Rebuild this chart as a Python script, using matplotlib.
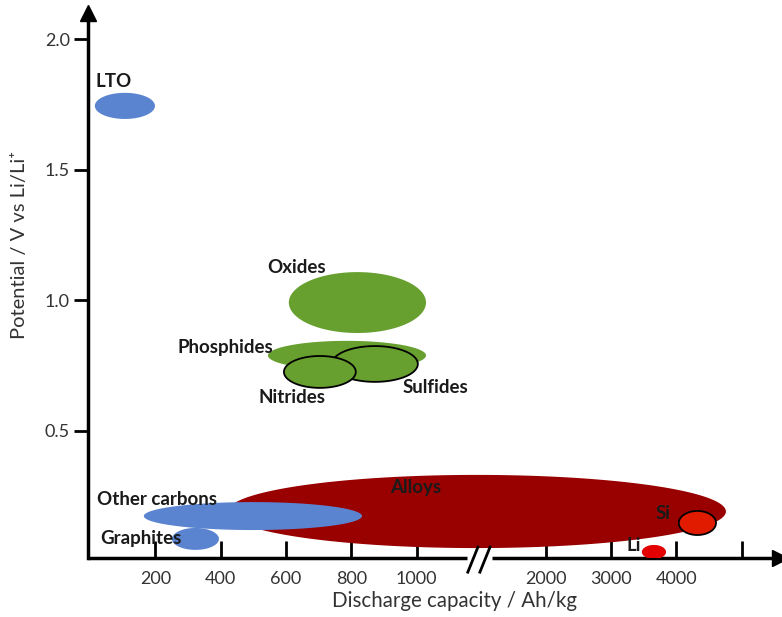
import numpy as np
import matplotlib
matplotlib.use("Agg")
import matplotlib.pyplot as plt

plt.rcParams['font.family'] = ['Lato', 'DejaVu Sans']

# material regions: capacity range (Ah/kg) and potential range (V vs Li/Li+)
materials = ['Alloys', 'Other carbons', 'Graphites', 'LTO', 'Oxides',
             'Phosphides', 'Sulfides', 'Nitrides', 'Si', 'Li']
cap_lo = [422, 165, 251, 15, 609, 545, 741, 594, 4035, 3470]
cap_hi = [4757, 833, 395, 199, 1029, 1029, 1004, 814, 4605, 3840]
pot_lo = [0.052, 0.121, 0.045, 1.694, 0.875, 0.733, 0.688, 0.665, 0.102, 0.010]
pot_hi = [0.332, 0.228, 0.129, 1.794, 1.108, 0.845, 0.825, 0.787, 0.194, 0.064]

# label anchor points (left edge, vertical centre)
label_x = [918, 21, 31, 18, 542, 269, 958, 517, 3685, 3240]
label_y = [0.282, 0.236, 0.090, 1.836, 1.124, 0.818, 0.668, 0.630, 0.186, 0.060]

xticks = [200, 400, 600, 800, 1000, 2000, 3000, 4000, 5000]
xticklabels = ['200', '400', '600', '800', '1000', '2000', '3000', '4000', '']
yticks = [0.5, 1.0, 1.5, 2.0]

blue = '#5b84d0'
green = '#67a02f'
colors = ['#990000', blue, blue, blue, green, green, green, green, '#e01b00', '#e30000']
edges = [None, None, None, None, None, None, 'k', 'k', 'k', None]

# broken x axis: linear up to ~1245, compressed above
R = 0.2
F2000 = 1396.0
B = (F2000 - 2000 * R) / (1 - R)


def fwd(x):
    x = np.asarray(x, float)
    return np.where(x <= B, x, F2000 + (x - 2000) * R)


def inv(f):
    f = np.asarray(f, float)
    return np.where(f <= B, f, 2000 + (f - F2000) / R)


fig = plt.figure(figsize=(7.82, 6.17), dpi=100)
ax = fig.add_axes([88 / 782, 59 / 617, 692 / 782, 545 / 617])
ax.set_xscale('function', functions=(fwd, inv))
ax.set_xlim(-6, 5585)
ax.set_ylim(0.014, 2.0995)

t = np.linspace(0, 2 * np.pi, 300)
for i in range(len(materials)):
    f0, f1 = fwd(cap_lo[i]), fwd(cap_hi[i])
    fc, a = (f0 + f1) / 2, (f1 - f0) / 2
    yc, b = (pot_lo[i] + pot_hi[i]) / 2, (pot_hi[i] - pot_lo[i]) / 2
    xs = inv(fc + a * np.cos(t))
    ys = yc + b * np.sin(t)
    if edges[i]:
        ax.fill(xs, ys, facecolor=colors[i], edgecolor=edges[i], lw=1.3, zorder=2 + i * 0.01)
    else:
        ax.fill(xs, ys, facecolor=colors[i], edgecolor='none', zorder=2 + i * 0.01)

for name, lx, ly in zip(materials, label_x, label_y):
    ax.text(lx, ly, name, ha='left', va='center', fontsize=13.5,
            fontweight='bold', color='#1a1a1a', zorder=5)

# axes lines
for s in ['top', 'right', 'bottom']:
    ax.spines[s].set_visible(False)
ax.spines['left'].set_linewidth(2.5)
ax.plot([0], [1], marker='^', ms=12, color='k', transform=ax.transAxes, clip_on=False)
xt = ax.get_xaxis_transform()
ax.plot([-6, 1154], [0, 0], color='k', lw=2.5, transform=xt, clip_on=False, solid_capstyle='butt')
ax.plot([1231, 5560], [0, 0], color='k', lw=2.5, transform=xt, clip_on=False, solid_capstyle='butt')
ax.plot([5585], [0], marker='>', ms=12, color='k', transform=xt, clip_on=False)
for fa, fb in [(1188, 1157), (1225, 1194)]:
    ax.plot([inv(fa), inv(fb)], [0.020, -0.026], color='k', lw=2, transform=xt, clip_on=False)

ax.set_xticks(xticks)
ax.set_xticklabels(xticklabels)
ax.minorticks_off()
ax.set_yticks(yticks)
ax.set_yticklabels(['0.5', '1.0', '1.5', '2.0'])
ax.tick_params(axis='x', direction='in', length=12, width=2, pad=9, labelsize=13, labelcolor='#333333')
ax.tick_params(axis='y', direction='out', length=10, width=2, pad=3, labelsize=13, labelcolor='#333333')

ax.set_xlabel('Discharge capacity / Ah/kg', fontsize=14.8, color='#333333')
ax.set_ylabel('Potential / V vs Li/Li\u207a', fontsize=14.5, color='#333333')
ax.xaxis.set_label_coords(0.529, -0.06)
ax.yaxis.set_label_coords(-0.087, 0.574)

fig.savefig('out.png', dpi=100)
